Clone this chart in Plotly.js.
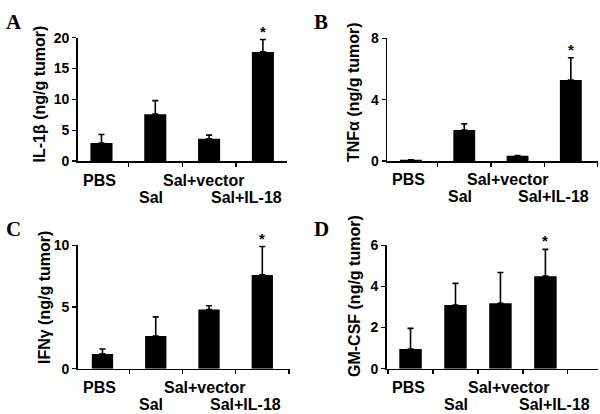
<!DOCTYPE html>
<html>
<head>
<meta charset="utf-8">
<script src="https://cdn.plot.ly/plotly-3.0.1.min.js"></script>
<style>html,body{margin:0;padding:0;background:#fff}#chart{width:600px;height:414px}</style>
</head>
<body>
<div id="chart"></div>
<script>
// Data
const categories = ['PBS', 'Sal', 'Sal+vector', 'Sal+IL-18'];
const tickLabels = ['PBS', 'Sal', 'Sal+vector', 'Sal+IL-18'];
const labelRow = [0, 1, 0, 1];
const il1b = [2.9, 7.6, 3.6, 17.7];
const il1bErr = [1.4, 2.2, 0.6, 2.0];
const tnfa = [0.08, 2.02, 0.35, 5.28];
const tnfaErr = [0, 0.4, 0, 1.45];
const ifng = [1.2, 2.65, 4.8, 7.6];
const ifngErr = [0.4, 1.55, 0.3, 2.3];
const gmcsf = [0.96, 3.1, 3.18, 4.5];
const gmcsfErr = [1.0, 1.05, 1.5, 1.3];
const panelLetters = ['A', 'B', 'C', 'D'];
const yTitles = ['IL-1β (ng/g tumor)', 'TNFα (ng/g tumor)', 'IFNγ (ng/g tumor)', 'GM-CSF (ng/g tumor)'];
const yTicks = [[0, 5, 10, 15, 20], [0, 4, 8], [0, 5, 10], [0, 2, 4, 6]];
const starIndex = 3;

const W = 600, H = 414;
const px = (a, b) => [a / W, b / W];
const py = (bottom, top) => [1 - bottom / H, 1 - top / H];

const panels = [
  {vals: il1b, errs: il1bErr, xd: px(77.7, 287), yd: py(161, 37.7), xr: [-0.442, 3.448], yr: [0, 20], bw: 0.41,
   lx: 4, ly: 8, tx: 38.5, ty: 94, shifts: [-1.5, -4.5, -6, -16]},
  {vals: tnfa, errs: tnfaErr, xd: px(387, 598), yd: py(161, 38.3), xr: [-0.45, 3.51], yr: [0, 8], bw: 0.41,
   lx: 312, ly: 8, tx: 353, ty: 92, shifts: [-2.5, -4.5, -10, -17]},
  {vals: ifng, errs: ifngErr, xd: px(77.7, 290), yd: py(368.7, 245.3), xr: [-0.465, 3.52], yr: [0, 10], bw: 0.40,
   lx: 4, ly: 215, tx: 44, ty: 298, shifts: [-2.5, -4.5, -4.5, -16.5]},
  {vals: gmcsf, errs: gmcsfErr, xd: px(386.7, 598), yd: py(368.7, 245.3), xr: [-0.53, 4.17], yr: [0, 6], bw: 0.5,
   lx: 312, ly: 215, tx: 354, ty: 296, shifts: [-2, 1, 8, 9]}
];

const font = 'Liberation Sans, Arial, sans-serif';
const traces = [];
const layout = {
  width: W, height: H,
  margin: {l: 0, r: 0, t: 0, b: 0},
  paper_bgcolor: '#fff', plot_bgcolor: '#fff',
  showlegend: false,
  font: {family: font, color: '#000'},
  annotations: []
};

panels.forEach((p, i) => {
  const n = i + 1;
  const xa = 'xaxis' + (n === 1 ? '' : n), ya = 'yaxis' + (n === 1 ? '' : n);
  const xr = 'x' + (n === 1 ? '' : n), yr = 'y' + (n === 1 ? '' : n);
  traces.push({
    type: 'bar', x: categories, y: p.vals, xaxis: xr, yaxis: yr,
    width: p.bw,
    marker: {color: '#000', line: {width: 0}},
    error_y: {type: 'data', symmetric: false, array: p.errs, arrayminus: categories.map(() => 0),
              color: '#000', thickness: 1.6, width: 3},
    cliponaxis: false, hoverinfo: 'skip'
  });
  layout[xa] = {
    domain: p.xd, anchor: yr, type: 'category', range: p.xr,
    tickvals: categories, tickson: 'boundaries', showticklabels: false,
    showline: true, linecolor: '#000', linewidth: 1.5,
    ticks: 'outside', ticklen: 4, tickwidth: 1.2, tickcolor: '#000',
    showgrid: false, zeroline: false, fixedrange: true
  };
  layout[ya] = {
    domain: p.yd, anchor: xr, range: p.yr,
    tickvals: yTicks[i], ticktext: yTicks[i].map(v => '<b>' + v + '</b>'),
    showline: true, linecolor: '#000', linewidth: 1.5,
    ticks: 'outside', ticklen: 4, tickwidth: 1.2, tickcolor: '#000',
    tickfont: {family: font, size: 14, color: '#000'},
    showgrid: false, zeroline: false, fixedrange: true
  };
  // category labels, staggered in two rows
  categories.forEach((c, k) => {
    layout.annotations.push({
      xref: xr, yref: yr + ' domain', x: c, y: 0,
      xanchor: 'center', yanchor: 'middle', showarrow: false,
      xshift: p.shifts[k], yshift: labelRow[k] ? -36 : -19,
      text: '<b>' + tickLabels[k] + '</b>',
      font: {family: font, size: 16, color: '#000'}
    });
  });
  // y-axis title
  layout.annotations.push({
    xref: 'paper', yref: 'paper', x: p.tx / W, y: 1 - p.ty / H,
    xanchor: 'center', yanchor: 'middle', textangle: -90, showarrow: false,
    text: '<b>' + yTitles[i] + '</b>',
    font: {family: font, size: 16, color: '#000'}
  });
  // panel letter
  layout.annotations.push({
    xref: 'paper', yref: 'paper', x: p.lx / W, y: 1 - p.ly / H,
    xanchor: 'left', yanchor: 'top', showarrow: false,
    text: '<b>' + panelLetters[i] + '</b>',
    font: {family: 'Liberation Serif, Times New Roman, serif', size: 21, color: '#000'}
  });
  // significance star
  layout.annotations.push({
    xref: xr, yref: yr, x: categories[starIndex], y: p.vals[starIndex] + p.errs[starIndex],
    xanchor: 'center', yanchor: 'bottom', showarrow: false, yshift: -2,
    text: '<b>*</b>', font: {family: font, size: 15, color: '#000'}
  });
});

Plotly.newPlot('chart', traces, layout, {staticPlot: true, displayModeBar: false});
</script>
</body>
</html>
